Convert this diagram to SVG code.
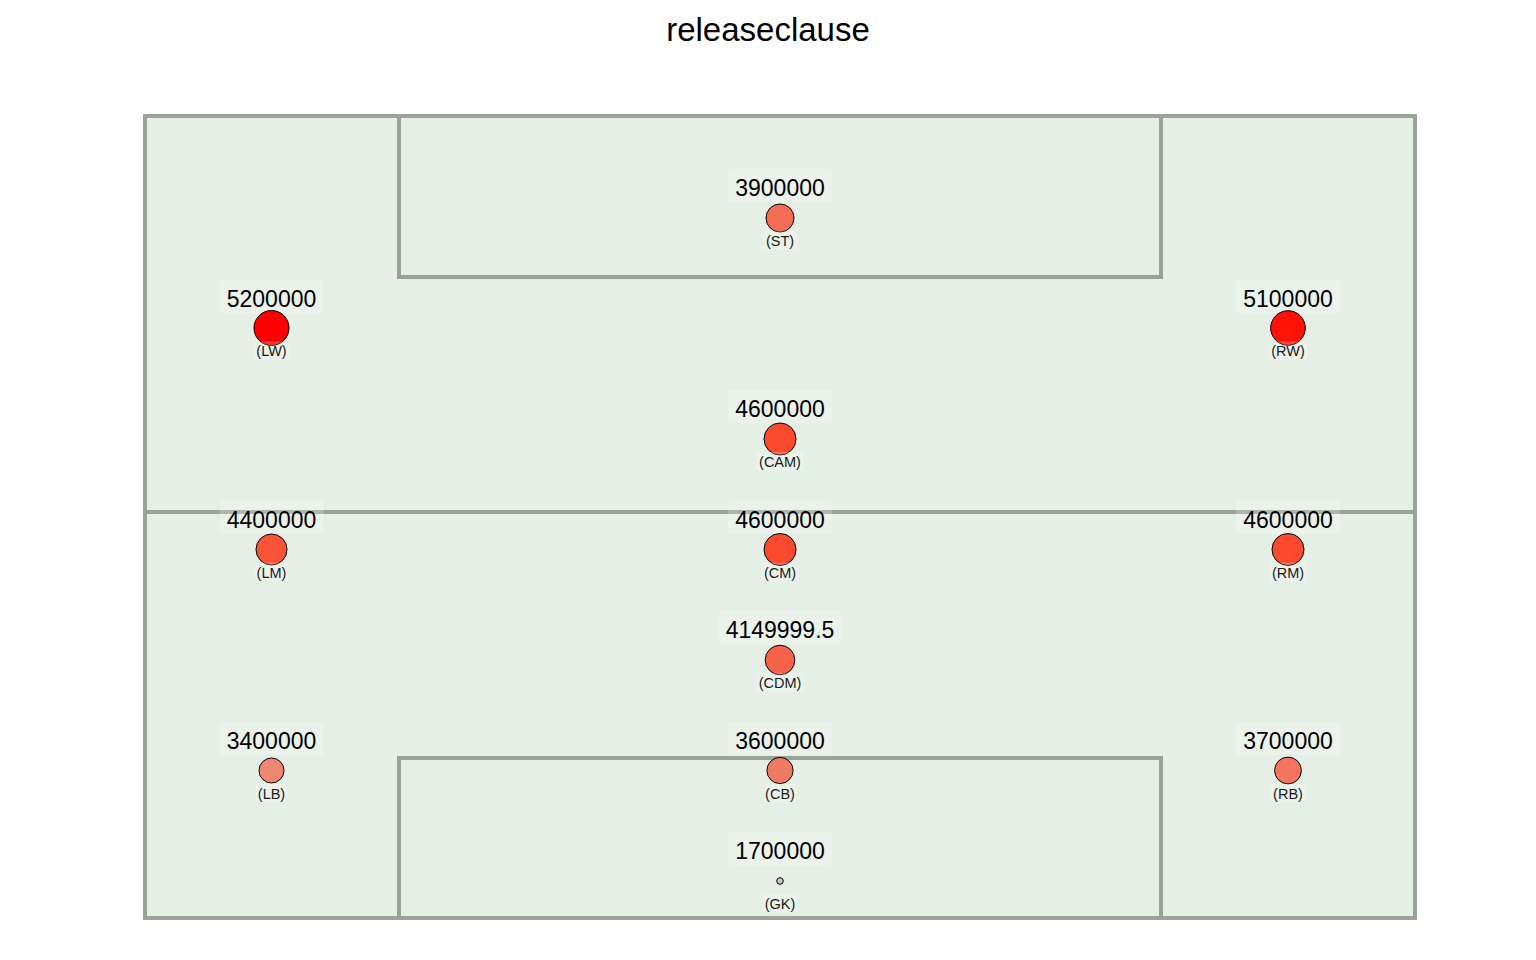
<svg xmlns="http://www.w3.org/2000/svg" width="1536" height="960" viewBox="0 0 1536 960">
<style>
.field{fill:#e5efe5;stroke:#9aa39a;stroke-width:4}
.line{fill:none;stroke:#9aa39a;stroke-width:4}
.bg{fill:#ffffff;fill-opacity:0.2}
.val{font-family:"Liberation Sans",Arial,sans-serif;font-size:23px;fill:#000;text-anchor:middle}
.pos{font-family:"Liberation Sans",Arial,sans-serif;font-size:14.5px;fill:#1a1a1a;text-anchor:middle}
.pt{stroke:#000;stroke-width:1}
.title{font-family:"Liberation Sans",Arial,sans-serif;font-size:33px;fill:#000;text-anchor:middle}
</style>
<rect width="1536" height="960" fill="#ffffff"/>
<text class="title" x="768" y="41">releaseclause</text>
<g id="pitch">
<rect class="field" x="145" y="116" width="1270" height="802"/>
<rect class="line" x="399" y="116" width="762" height="161"/>
<rect class="line" x="399" y="758" width="762" height="160"/>
<line class="line" x1="145" y1="512" x2="1415" y2="512"/>
</g>
<g id="connectors"></g>
<g id="node-ST">
<rect class="bg" x="728" y="168.5" width="104" height="34" rx="4"/>
<text class="val" x="780" y="195.5">3900000</text>
<circle class="pt" cx="780" cy="218" r="14" fill="#f36c54"/>
<rect class="bg" x="763" y="231" width="34" height="19" rx="3"/>
<text class="pos" x="780" y="246">(ST)</text>
</g>
<g id="node-LW">
<rect class="bg" x="219.5" y="279.5" width="104" height="34" rx="4"/>
<text class="val" x="271.5" y="306.5">5200000</text>
<circle class="pt" cx="271.5" cy="328" r="17.5" fill="#ff0000"/>
<rect class="bg" x="253.5" y="341.5" width="36" height="19" rx="3"/>
<text class="pos" x="271.5" y="356">(LW)</text>
</g>
<g id="node-RW">
<rect class="bg" x="1236" y="279.5" width="104" height="34" rx="4"/>
<text class="val" x="1288" y="306.5">5100000</text>
<circle class="pt" cx="1288" cy="328" r="17.3" fill="#fe1208"/>
<rect class="bg" x="1269" y="341.5" width="38" height="19" rx="3"/>
<text class="pos" x="1288" y="356">(RW)</text>
</g>
<g id="node-CAM">
<rect class="bg" x="728" y="389.5" width="104" height="34" rx="4"/>
<text class="val" x="780" y="416.5">4600000</text>
<circle class="pt" cx="780" cy="439" r="16" fill="#fc4a2f"/>
<rect class="bg" x="757" y="452" width="46" height="19" rx="3"/>
<text class="pos" x="780" y="467">(CAM)</text>
</g>
<g id="node-LM">
<rect class="bg" x="219.5" y="500.5" width="104" height="34" rx="4"/>
<text class="val" x="271.5" y="527.5">4400000</text>
<circle class="pt" cx="271.5" cy="549.5" r="15.5" fill="#fa5438"/>
<rect class="bg" x="255" y="562.5" width="33" height="19" rx="3"/>
<text class="pos" x="271.5" y="577.5">(LM)</text>
</g>
<g id="node-CM">
<rect class="bg" x="728" y="500.5" width="104" height="34" rx="4"/>
<text class="val" x="780" y="527.5">4600000</text>
<circle class="pt" cx="780" cy="549.5" r="16" fill="#fc4a2f"/>
<rect class="bg" x="762" y="562.5" width="36" height="19" rx="3"/>
<text class="pos" x="780" y="577.5">(CM)</text>
</g>
<g id="node-RM">
<rect class="bg" x="1236" y="500.5" width="104" height="34" rx="4"/>
<text class="val" x="1288" y="527.5">4600000</text>
<circle class="pt" cx="1288" cy="549.5" r="16" fill="#fc4a2f"/>
<rect class="bg" x="1270" y="562.5" width="36" height="19" rx="3"/>
<text class="pos" x="1288" y="577.5">(RM)</text>
</g>
<g id="node-CDM">
<rect class="bg" x="718.5" y="610.5" width="123" height="34" rx="4"/>
<text class="val" x="780" y="637.5">4149999.5</text>
<circle class="pt" cx="780" cy="660" r="14.8" fill="#f7624a"/>
<rect class="bg" x="756.5" y="673" width="47" height="19" rx="3"/>
<text class="pos" x="780" y="688">(CDM)</text>
</g>
<g id="node-LB">
<rect class="bg" x="219.5" y="721.5" width="104" height="34" rx="4"/>
<text class="val" x="271.5" y="748.5">3400000</text>
<circle class="pt" cx="271.5" cy="770.5" r="12.5" fill="#ee8670"/>
<rect class="bg" x="256" y="783.5" width="31" height="19" rx="3"/>
<text class="pos" x="271.5" y="798.5">(LB)</text>
</g>
<g id="node-CB">
<rect class="bg" x="728" y="721.5" width="104" height="34" rx="4"/>
<text class="val" x="780" y="748.5">3600000</text>
<circle class="pt" cx="780" cy="770.5" r="13.1" fill="#f07b63"/>
<rect class="bg" x="763" y="783.5" width="34" height="19" rx="3"/>
<text class="pos" x="780" y="798.5">(CB)</text>
</g>
<g id="node-RB">
<rect class="bg" x="1236" y="721.5" width="104" height="34" rx="4"/>
<text class="val" x="1288" y="748.5">3700000</text>
<circle class="pt" cx="1288" cy="770.5" r="13.4" fill="#f2765e"/>
<rect class="bg" x="1271" y="783.5" width="34" height="19" rx="3"/>
<text class="pos" x="1288" y="798.5">(RB)</text>
</g>
<g id="node-GK">
<rect class="bg" x="728" y="831.5" width="104" height="34" rx="4"/>
<text class="val" x="780" y="858.5">1700000</text>
<circle class="pt" cx="780" cy="881" r="3.3" fill="#c8c8c8"/>
<rect class="bg" x="762.5" y="894" width="35" height="19" rx="3"/>
<text class="pos" x="780" y="909">(GK)</text>
</g>
</svg>
